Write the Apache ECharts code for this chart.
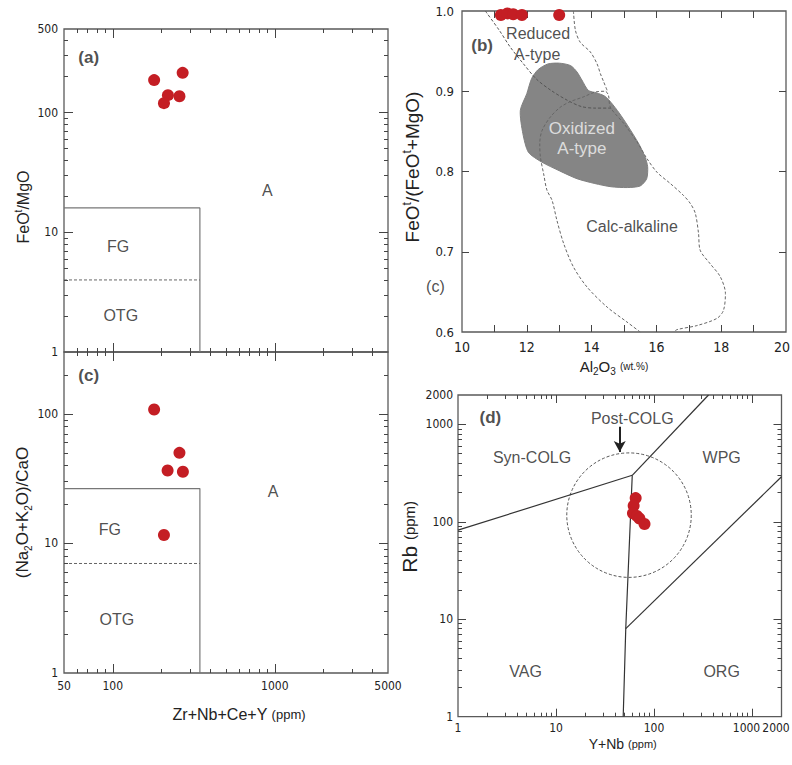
<!DOCTYPE html>
<html><head><meta charset="utf-8">
<script src="https://cdn.jsdelivr.net/npm/echarts@6/dist/echarts.min.js"></script>
<style>html,body{margin:0;padding:0;background:#fff}#c{width:792px;height:765px}</style>
</head><body><div id="c"></div>
<script>
// ---------------- data ----------------
// (a) FeOt/MgO vs Zr+Nb+Ce+Y
const aZrNbCeY = [180, 270, 219, 207, 258];
const aFeoMgo  = [187, 215, 140, 120, 137];
// (c) (Na2O+K2O)/CaO vs Zr+Nb+Ce+Y
const cZrNbCeY = [180, 258, 218, 271, 207];
const cAlkCaO  = [108, 50, 36.5, 35.7, 11.6];
// (b) FeOt/(FeOt+MgO) vs Al2O3
const bAl2O3   = [11.2, 11.4, 11.58, 11.85, 13.0];
const bFeNum   = [0.995, 0.997, 0.996, 0.995, 0.995];
// (d) Rb vs Y+Nb
const dYNb     = [65, 62, 61, 67, 71, 80];
const dRb      = [175, 146, 122, 115, 108, 95];

// field boundaries
const aFgBox   = [[50, 16], [345, 16], [345, 1]];
const aOtgLine = [[50, 4], [345, 4]];
const cFgBox   = [[50, 26.5], [345, 26.5], [345, 1]];
const cOtgLine = [[50, 7], [345, 7]];

const bOxidizedField = [[11.8,0.876],[12.0,0.897],[12.15,0.916],[12.35,0.927],[12.65,0.934],[13.0,0.935],[13.35,0.932],[13.55,0.924],[13.7,0.914],[13.9,0.901],[14.15,0.898],[14.4,0.894],[14.6,0.886],[14.85,0.873],[15.1,0.858],[15.45,0.835],[15.65,0.818],[15.73,0.806],[15.7,0.791],[15.5,0.782],[15.1,0.780],[14.6,0.781],[14.1,0.785],[13.55,0.791],[13.0,0.801],[12.45,0.812],[12.05,0.824],[11.88,0.847]];
const bReducedLeft = [[10.72,1.0],[11.15,0.976],[11.49,0.955],[11.9,0.934],[12.3,0.915],[12.75,0.901],[13.24,0.889],[13.68,0.881],[14.1,0.879],[14.6,0.879]];
const bReducedRight = [[13.44,1.0],[13.5,0.976],[13.65,0.961],[13.96,0.949],[14.17,0.934],[14.27,0.922],[14.37,0.912],[14.48,0.901]];
const bCalcAlkaline = [[15.5,0.6],[15.09,0.6125],[14.48,0.631],[13.86,0.656],[13.44,0.681],[13.14,0.71],[12.93,0.739],[12.78,0.764],[12.62,0.777],[12.52,0.797],[12.42,0.818],[12.4,0.835],[12.47,0.851],[12.73,0.868],[13.03,0.88],[13.34,0.887],[13.75,0.893],[14.11,0.899],[14.42,0.9],[14.52,0.895],[14.58,0.88],[14.99,0.86],[15.4,0.837],[15.71,0.816],[16.02,0.799],[16.43,0.785],[16.84,0.77],[17.05,0.76],[17.2,0.748],[17.3,0.723],[17.35,0.702],[17.66,0.685],[17.97,0.669],[18.13,0.648],[18.07,0.627],[17.87,0.617],[17.25,0.608],[16.64,0.603],[16.53,0.6]];

const dVagSyn  = [[1, 82], [60, 300]];
const dSynWpg  = [[60, 300], [360, 2000]];
const dVagOrg  = [[60, 300], [51.5, 8], [48.5, 1]];
const dOrgWpg  = [[51.5, 8], [2000, 290]];
const dPostColgCenter = [55.6, 117];
const dPostColgEdge   = [240, 117];
const dArrow   = [[44.7, 946], [44.7, 520]];

// tick values and tick labels
const tZrMajor = [100, 1000];
const tZrMinor = [60,70,80,90,200,300,400,500,600,700,800,900,2000,3000,4000];
const tZrLabels = [50, 100, 1000, 5000];
const tAyMajor = [10, 100];
const tAyMinor = [2,3,4,5,6,7,8,9,20,30,40,50,60,70,80,90,200,300,400];
const tAyLabels = [1, 10, 100, 500];
const tCyMajor = [10, 100];
const tCyMinor = [2,3,4,5,6,7,8,9,20,30,40,50,60,70,80,90,200];
const tCyLabels = [1, 10, 100];
const tBxTicks = [11,12,13,14,15,16,17,18,19];
const tBxLabels = [10, 12, 14, 16, 18, 20];
const tByTicks = [0.7, 0.8, 0.9];
const tByLabels = [0.6, 0.7, 0.8, 0.9, 1.0];
const tDMajor = [10, 100, 1000];
const tDMinor = [2,3,4,5,6,7,8,9,20,30,40,50,60,70,80,90,200,300,400,500,600,700,800,900];
const tDLabels = [1, 10, 100, 1000, 2000];

// text labels in the fields
const aTexts = [{name:'A', value:[900,22.5]}, {name:'FG', value:[108,7.6]}, {name:'OTG', value:[112,2.0]}];
const cTexts = [{name:'A', value:[975,25]}, {name:'FG', value:[96,12.7]}, {name:'OTG', value:[106,2.6]}];
const bTexts = [{name:'Reduced', value:[12.35,0.972]}, {name:'A-type', value:[12.32,0.946]}, {name:'Calc-alkaline', value:[15.25,0.731]}, {name:'(c)', value:[9.18,0.657]}];
const bTextsWhite = [{name:'Oxidized', value:[13.7,0.854]}, {name:'A-type', value:[13.7,0.829]}];
const dTexts = [{name:'Post-COLG', value:[60,1150]}, {name:'Syn-COLG', value:[5.7,460]}, {name:'WPG', value:[490,460]}, {name:'VAG', value:[4.9,2.9]}, {name:'ORG', value:[490,2.9]}];
const panelTags = [{g:0, name:'(a)', value:[71,290]}, {g:1, name:'(c)', value:[71,198]}, {g:2, name:'(b)', value:[10.62,0.957]}, {g:3, name:'(d)', value:[2.14,1180]}];

// ---------------- chart ----------------
const FONT_NUM = "'Liberation Sans Narrow','Arial Narrow','DejaVu Sans Condensed','Liberation Sans',sans-serif";
const FONT = "'Liberation Sans',Arial,sans-serif";
const TICK = '#444';
const DOT = '#c41e24';
const zip = (xs, ys) => xs.map((x, i) => [x, ys[i]]);
const fmtNum = v => String(parseFloat(Number(v).toPrecision(6)));

function axis(g, type, min, max, labels, labelOpt, nameOpt, pos) {
  const a = {gridIndex: g, type: type, min: min, max: max, position: pos,
    splitLine: {show: false}, splitArea: {show: false},
    axisLine: {show: false, onZero: false}, axisTick: {show: false},
    axisLabel: labels ? Object.assign({show: true, customValues: labels, color: '#222', fontFamily: FONT_NUM,
      fontSize: 12, margin: 6, formatter: fmtNum}, labelOpt || {}) : {show: false}};
  if (type === 'log') a.logBase = 10;
  if (nameOpt) Object.assign(a, nameOpt);
  return a;
}

const richBase = {
  sup: {fontSize: 10, verticalAlign: 'top', lineHeight: 10, fontFamily: FONT, color: '#222'},
  sub: {fontSize: 10, verticalAlign: 'bottom', lineHeight: 10, fontFamily: FONT, color: '#222'}
};
function nameStyle(size, extraRich, padding) {
  return {fontFamily: FONT, fontSize: size, color: '#222', lineHeight: size + 4, padding: padding || 0,
    rich: Object.assign({}, richBase, extraRich || {})};
}

const gridBoxes = [
  {left: 64, top: 29, width: 324, height: 323},
  {left: 64, top: 352, width: 324, height: 321},
  {left: 462, top: 11, width: 324, height: 321},
  {left: 458, top: 395, width: 323.5, height: 321.7}
];
const grids = gridBoxes.map(g => Object.assign({show: true, borderColor: '#5a5a5a', borderWidth: 1.3, backgroundColor: 'transparent',
  containLabel: false, outerBoundsMode: 'none'}, g));

const xAxes = [
  axis(0, 'log', 50, 5000, null, null, null, 'bottom'),
  axis(1, 'log', 50, 5000, tZrLabels, {margin: 7}, {
    name: 'Zr+Nb+Ce+Y {s|(ppm)}', nameLocation: 'middle', nameGap: 31,
    nameTextStyle: nameStyle(16, {s: {fontSize: 13, fontFamily: FONT, color: '#222'}}, [0, 0, 0, 26])}, 'bottom'),
  axis(2, 'value', 10, 20, tBxLabels, {fontSize: 14, margin: 8, formatter: v => {
      const s = fmtNum(v);
      return s === '20' ? '{r|20}' : s;
    }, rich: {r: {fontFamily: FONT_NUM, fontSize: 14, color: '#222', padding: [0, 8, 0, 0]}}}, {
    name: 'Al{sub|2}O{sub|3} {s|(wt.%)}', nameLocation: 'middle', nameGap: 25,
    nameTextStyle: nameStyle(15, {s: {fontSize: 10, fontFamily: FONT, color: '#222'}}, [0, 20, 0, 0])}, 'bottom'),
  axis(3, 'log', 1, 2000, tDLabels, {margin: 5, formatter: v => {
      const s = fmtNum(v);
      return (s === '1000' || s === '2000') ? '{l|' + s + '}' : s;
    }, rich: {l: {fontFamily: FONT_NUM, fontSize: 12, color: '#222', padding: [0, 11, 0, 0]}}}, {
    name: 'Y+Nb {s|(ppm)}', nameLocation: 'middle', nameGap: 16,
    nameTextStyle: nameStyle(14, {s: {fontSize: 11, fontFamily: FONT, color: '#222'}}, [0, 0, 0, 6])}, 'bottom')
];
const yAxes = [
  axis(0, 'log', 1, 500, tAyLabels, {margin: 6}, {
    name: 'FeO{sup|t}/MgO', nameLocation: 'middle', nameGap: 31, nameRotate: 90,
    nameTextStyle: nameStyle(16, null, [0, 33, 0, 0])}, 'left'),
  axis(1, 'log', 1, 300, tCyLabels, {margin: 6}, {
    name: '(Na{sub|2}O+K{sub|2}O)/CaO', nameLocation: 'middle', nameGap: 31, nameRotate: 90,
    nameTextStyle: nameStyle(17)}, 'left'),
  axis(2, 'value', 0.6, 1.0, tByLabels, {fontSize: 13, margin: 8, formatter: v => Number(v).toFixed(1)}, {
    name: 'FeO{sup|t}/(FeO{sup|t}+MgO)', nameLocation: 'middle', nameGap: 38, nameRotate: 90,
    nameTextStyle: nameStyle(19, {sup: {fontSize: 12, verticalAlign: 'top', lineHeight: 10, fontFamily: FONT, color: '#222'}}, [0, 0, 0, 9])}, 'left'),
  axis(3, 'log', 1, 2000, tDLabels, {margin: 5}, {
    name: 'Rb {s|(ppm)}', nameLocation: 'middle', nameGap: 33, nameRotate: 90,
    nameTextStyle: nameStyle(21, {s: {fontSize: 15, fontFamily: FONT, color: '#222'}}, [0, 0, 0, 38])}, 'left')
];

// inward tick marks, drawn as markLine segments in data space; the far end of each
// segment is the tick value moved by the tick length along the axis scale
function stepAlong(type, min, max, sizePx, from, px) {
  if (type === 'log') {
    const k = (Math.log10(max) - Math.log10(min)) / sizePx;
    return from * Math.pow(10, k * px);
  }
  return from + (max - min) / sizePx * px;
}
function tickSeries(s) {
  const box = gridBoxes[s.g];
  const segs = [];
  const ys = (from, px) => stepAlong(s.yt, s.yr[0], s.yr[1], box.height, from, px);
  const xs = (from, px) => stepAlong(s.xt, s.xr[0], s.xr[1], box.width, from, px);
  const xt = (vals, len) => vals.forEach(v => {
    segs.push([{coord: [v, s.yr[0]]}, {coord: [v, ys(s.yr[0], len)]}]);
    segs.push([{coord: [v, s.yr[1]]}, {coord: [v, ys(s.yr[1], -len)]}]);
  });
  const yt = (vals, len) => vals.forEach(v => {
    segs.push([{coord: [s.xr[0], v]}, {coord: [xs(s.xr[0], len), v]}]);
    segs.push([{coord: [s.xr[1], v]}, {coord: [xs(s.xr[1], -len), v]}]);
  });
  xt(s.xMaj, s.lMaj); xt(s.xMin, s.lMin); yt(s.yMaj, s.lMaj); yt(s.yMin, s.lMin);
  return {type: 'line', xAxisIndex: s.g, yAxisIndex: s.g, data: [], symbol: 'none', silent: true, z: 7,
    markLine: {silent: true, symbol: ['none', 'none'], label: {show: false}, animation: false,
      emphasis: {disabled: true}, lineStyle: {color: TICK, width: 1, type: 'solid'}, data: segs}};
}
const tickSpecs = [
  {g: 0, xt: 'log', yt: 'log', xr: [50, 5000], yr: [1, 500], xMaj: tZrMajor, xMin: tZrMinor, yMaj: tAyMajor, yMin: tAyMinor, lMaj: 9, lMin: 4},
  {g: 1, xt: 'log', yt: 'log', xr: [50, 5000], yr: [1, 300], xMaj: tZrMajor, xMin: tZrMinor, yMaj: tCyMajor, yMin: tCyMinor, lMaj: 9, lMin: 4},
  {g: 2, xt: 'value', yt: 'value', xr: [10, 20], yr: [0.6, 1.0], xMaj: tBxTicks, xMin: [], yMaj: tByTicks, yMin: [], lMaj: 7, lMin: 4},
  {g: 3, xt: 'log', yt: 'log', xr: [1, 2000], yr: [1, 2000], xMaj: tDMajor, xMin: tDMinor, yMaj: tDMajor, yMin: tDMinor, lMaj: 8, lMin: 4}
];

function dots(g, data) {
  return {type: 'scatter', xAxisIndex: g, yAxisIndex: g, data: data, symbolSize: 12, z: 10,
    itemStyle: {color: DOT, opacity: 1}, silent: true};
}
function poly(g, data, color, width, dash, smooth) {
  return {type: 'line', xAxisIndex: g, yAxisIndex: g, data: data, symbol: 'none', smooth: smooth || false,
    lineStyle: {color: color, width: width, type: dash || 'solid'}, z: 4, silent: true, clip: true};
}
function texts(g, data, style, clip) {
  return {type: 'scatter', xAxisIndex: g, yAxisIndex: g, data: data, symbolSize: 0, z: 8, silent: true,
    clip: !!clip, itemStyle: {color: 'transparent'},
    label: Object.assign({show: true, position: 'inside', formatter: '{b}', fontFamily: FONT, fontSize: 16, color: '#222'}, style)};
}

const series = [
  // (a)
  poly(0, aFgBox, '#777', 1.2),
  poly(0, aOtgLine, '#666', 1, [3, 2]),
  texts(0, aTexts),
  dots(0, zip(aZrNbCeY, aFeoMgo)),
  // (c)
  poly(1, cFgBox, '#777', 1.2),
  poly(1, cOtgLine, '#666', 1, [3, 2]),
  texts(1, cTexts),
  dots(1, zip(cZrNbCeY, cAlkCaO)),
  // (b)
  {type: 'custom', xAxisIndex: 2, yAxisIndex: 2, data: bOxidizedField, z: 2, silent: true,
    renderItem: function (params, api) {
      if (params.dataIndex !== 0) return null;
      const pts = bOxidizedField.map(p => api.coord(p));
      return {type: 'polygon', shape: {points: pts, smooth: 0.25}, style: {fill: '#858585', stroke: '#808080', lineWidth: 1}};
    }},
  poly(2, bReducedLeft, '#555', 1, [3, 2], 0.3),
  poly(2, bReducedRight, '#666', 1, [3, 2], 0.3),
  poly(2, bCalcAlkaline, '#666', 1, [3, 2], 0.3),
  texts(2, bTexts, {fontSize: 16}),
  texts(2, bTextsWhite, {fontSize: 17, color: '#f4f4f4'}),
  dots(2, zip(bAl2O3, bFeNum)),
  // (d)
  poly(3, dVagSyn, '#333', 1.2),
  poly(3, dSynWpg, '#333', 1.2),
  poly(3, dVagOrg, '#333', 1.2),
  poly(3, dOrgWpg, '#333', 1.2),
  {type: 'custom', xAxisIndex: 3, yAxisIndex: 3, data: [dPostColgCenter], z: 3, silent: true,
    renderItem: function (params, api) {
      const c = api.coord(dPostColgCenter);
      const e = api.coord(dPostColgEdge);
      return {type: 'circle', shape: {cx: c[0], cy: c[1], r: Math.abs(e[0] - c[0])},
        style: {fill: 'none', stroke: '#555', lineWidth: 1, lineDash: [3, 2]}};
    }},
  {type: 'line', xAxisIndex: 3, yAxisIndex: 3, data: [], symbol: 'none', silent: true,
    markLine: {silent: true, symbol: ['none', 'arrow'], symbolSize: [9, 11], label: {show: false},
      lineStyle: {color: '#222', width: 2, type: 'solid'}, animation: false,
      data: [[{coord: dArrow[0]}, {coord: dArrow[1]}]]}},
  texts(3, dTexts, {fontSize: 16}),
  dots(3, zip(dYNb, dRb)),
  // panel tags
  ...panelTags.map(t => texts(t.g, [{name: t.name, value: t.value}], {fontSize: 17, fontWeight: 'bold'})),
  // tick marks
  ...tickSpecs.map(tickSeries)
];

const chart = echarts.init(document.getElementById('c'), null, {renderer: 'svg', width: 792, height: 765});
try {
  chart.setOption({
    backgroundColor: '#ffffff',
    animation: false,
    grid: grids,
    xAxis: xAxes,
    yAxis: yAxes,
    series: series
  });
} catch (e) { console.error(e); }
</script>
</body></html>
